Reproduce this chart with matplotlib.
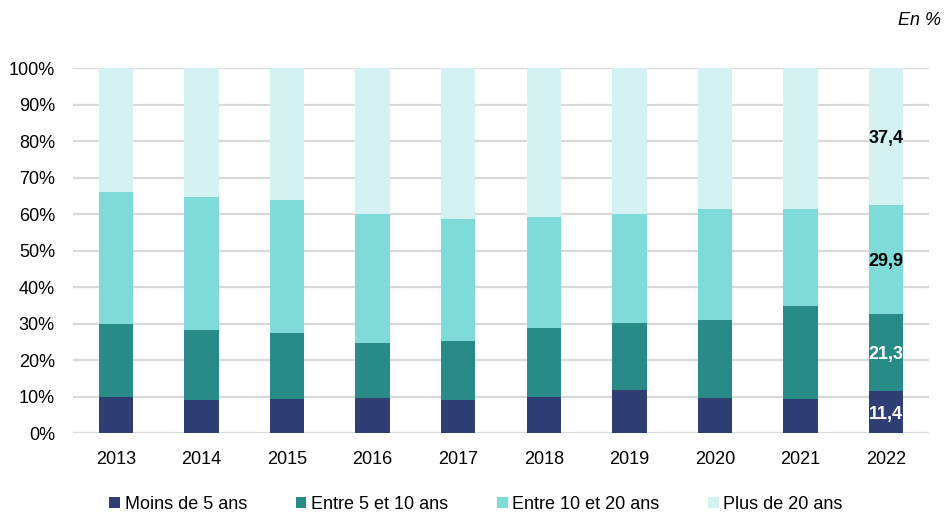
import matplotlib
matplotlib.use("Agg")
import matplotlib.pyplot as plt
import numpy as np

plt.rcParams['font.family'] = ['Liberation Sans', 'DejaVu Sans']

years = ["2013", "2014", "2015", "2016", "2017", "2018", "2019", "2020", "2021", "2022"]
moins_5 = [9.9, 9.1, 9.2, 9.7, 9.1, 9.9, 11.8, 9.5, 9.4, 11.4]
entre_5_10 = [20.1, 19.0, 18.3, 15.0, 16.1, 18.9, 18.3, 21.5, 25.4, 21.3]
entre_10_20 = [35.9, 36.5, 36.3, 35.4, 33.4, 30.4, 29.8, 30.4, 26.6, 29.9]
plus_20 = [34.1, 35.4, 36.2, 39.9, 41.4, 40.8, 40.1, 38.6, 38.6, 37.4]

series = [
    ("Moins de 5 ans", moins_5, "#2f3e75", "white"),
    ("Entre 5 et 10 ans", entre_5_10, "#288b87", "white"),
    ("Entre 10 et 20 ans", entre_10_20, "#7fdbd8", "black"),
    ("Plus de 20 ans", plus_20, "#d5f2f2", "black"),
]

FS = 13

fig = plt.figure(figsize=(9.52, 5.15), dpi=100)
ax = fig.add_axes([0.0767, 0.1592, 0.8991, 0.7087])

x = np.arange(len(years))
bottom = np.zeros(len(years))
for name, vals, color, txtcolor in series:
    vals = np.array(vals)
    ax.bar(x, vals, width=0.4, bottom=bottom, color=color, label=name, zorder=3)
    # value label on the last year only
    i = len(years) - 1
    ax.text(x[i], bottom[i] + vals[i] / 2, f"{vals[i]:.1f}".replace(".", ","),
            ha="center", va="center_baseline", fontsize=FS, fontweight="bold",
            color=txtcolor, zorder=4)
    bottom += vals

ax.set_xlim(-0.5, len(years) - 0.5)
ax.set_ylim(0, 100)
ax.set_yticks(np.arange(0, 101, 10))
ax.set_yticklabels([f"{v}%" for v in range(0, 101, 10)])
ax.set_xticks(x)
ax.set_xticklabels(years)
ax.tick_params(axis="both", length=0, labelsize=FS, colors="black")
ax.tick_params(axis="y", pad=13)
ax.tick_params(axis="x", pad=13)
ax.grid(axis="y", color="#d9d9d9", linewidth=1.6, zorder=0)
for s in ax.spines.values():
    s.set_visible(False)

fig.text(0.988, 0.961, "En %", ha="right", va="center", fontsize=FS, style="italic")

fig.legend(loc="center", bbox_to_anchor=(0.5, 0.021), ncol=4, frameon=False,
           fontsize=FS, handlelength=0.6, handleheight=0.6, handletextpad=0.25,
           columnspacing=2.7, borderaxespad=0)

fig.savefig("out.png", dpi=100)
